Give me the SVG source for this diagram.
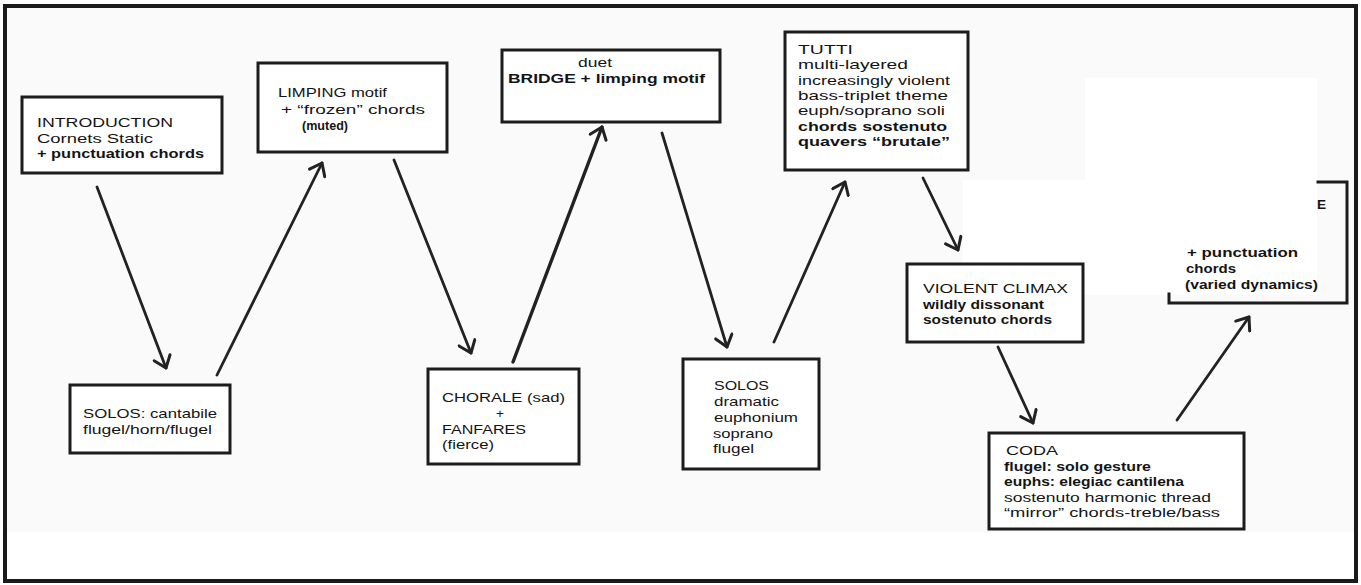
<svg xmlns="http://www.w3.org/2000/svg" width="1361" height="585" viewBox="0 0 1361 585">
  <style>
    .box { fill: #ffffff; stroke: #1c1c1c; stroke-width: 3; }
    .edge { fill: none; stroke: #1c1c1c; stroke-width: 3; stroke-linecap: square; }
    .conn { fill: none; stroke: #222222; stroke-width: 2.8; stroke-linecap: round; }
    text { font-family: "Liberation Sans", Arial, sans-serif; font-size: 13.6px; fill: #141414; }
    .b { font-weight: 700; }
  </style>
  <defs>
    <marker id="ah" viewBox="0 0 20 20" refX="18" refY="10" markerWidth="20" markerHeight="20" markerUnits="userSpaceOnUse" orient="auto">
      <path d="M7,1.5 L18,10 L7,18.5" fill="none" stroke="#222222" stroke-width="3" stroke-linecap="round" stroke-linejoin="round"/>
    </marker>
  </defs>

  <rect x="0" y="0" width="1361" height="585" fill="#ffffff"/>
  <rect x="7" y="8" width="1347" height="524" fill="#fafafa"/>
  <rect x="1085" y="78" width="232" height="102" fill="#ffffff"/>
  <rect x="963" y="180" width="354" height="115" fill="#ffffff"/>
  <rect id="frame" x="5" y="6" width="1351" height="575" fill="none" stroke="#1a1a1a" stroke-width="4"/>

  <g id="connectors">
    <line class="conn" x1="97" y1="187" x2="166" y2="368" marker-end="url(#ah)"/>
    <line class="conn" x1="217" y1="375" x2="322" y2="163" marker-end="url(#ah)"/>
    <line class="conn" x1="394" y1="160" x2="471" y2="353" marker-end="url(#ah)"/>
    <line class="conn" x1="513" y1="362" x2="602" y2="127" marker-end="url(#ah)" style="stroke-width:3.4"/>
    <line class="conn" x1="662" y1="133" x2="727" y2="347" marker-end="url(#ah)"/>
    <line class="conn" x1="774" y1="342" x2="845" y2="182" marker-end="url(#ah)"/>
    <line class="conn" x1="923" y1="178" x2="958" y2="250" marker-end="url(#ah)"/>
    <line class="conn" x1="998" y1="347" x2="1033" y2="423" marker-end="url(#ah)"/>
    <line class="conn" x1="1177" y1="420" x2="1249" y2="317" marker-end="url(#ah)"/>
  </g>

  <g id="introduction">
    <rect class="box" x="22" y="97" width="200" height="76"/>
    <text x="37" y="127" textLength="136" lengthAdjust="spacingAndGlyphs">INTRODUCTION</text>
    <text x="37" y="142.5" textLength="116" lengthAdjust="spacingAndGlyphs">Cornets Static</text>
    <text x="37" y="158" class="b" textLength="167" lengthAdjust="spacingAndGlyphs">+ punctuation chords</text>
  </g>

  <g id="limping">
    <rect class="box" x="258" y="63" width="189" height="89"/>
    <text x="278" y="97" textLength="109" lengthAdjust="spacingAndGlyphs">LIMPING motif</text>
    <text x="281" y="114" textLength="144" lengthAdjust="spacingAndGlyphs">+ “frozen” chords</text>
    <text x="302" y="130" class="b" textLength="46" lengthAdjust="spacingAndGlyphs">(muted)</text>
  </g>

  <g id="bridge">
    <rect class="box" x="502" y="50" width="218" height="72"/>
    <text x="578" y="67" textLength="34" lengthAdjust="spacingAndGlyphs">duet</text>
    <text x="508" y="83" class="b" textLength="197" lengthAdjust="spacingAndGlyphs">BRIDGE + limping motif</text>
  </g>

  <g id="tutti">
    <rect class="box" x="785" y="32" width="183" height="138"/>
    <text x="798" y="54" textLength="55" lengthAdjust="spacingAndGlyphs">TUTTI</text>
    <text x="798" y="69.3" textLength="110" lengthAdjust="spacingAndGlyphs">multi-layered</text>
    <text x="798" y="84.6" textLength="152" lengthAdjust="spacingAndGlyphs">increasingly violent</text>
    <text x="798" y="99.9" textLength="150" lengthAdjust="spacingAndGlyphs">bass-triplet theme</text>
    <text x="798" y="115.2" textLength="147" lengthAdjust="spacingAndGlyphs">euph/soprano soli</text>
    <text x="798" y="130.5" class="b" textLength="149" lengthAdjust="spacingAndGlyphs">chords sostenuto</text>
    <text x="798" y="145.8" class="b" textLength="152" lengthAdjust="spacingAndGlyphs">quavers “brutale”</text>
  </g>

  <g id="solos-cantabile">
    <rect class="box" x="70" y="385" width="160" height="68"/>
    <text x="83" y="418" textLength="134" lengthAdjust="spacingAndGlyphs">SOLOS: cantabile</text>
    <text x="83" y="434" textLength="129" lengthAdjust="spacingAndGlyphs">flugel/horn/flugel</text>
  </g>

  <g id="chorale">
    <rect class="box" x="428" y="369" width="151" height="95"/>
    <text x="442" y="402" textLength="123" lengthAdjust="spacingAndGlyphs">CHORALE (sad)</text>
    <text x="500" y="418" text-anchor="middle">+</text>
    <text x="442" y="433.5" textLength="84" lengthAdjust="spacingAndGlyphs">FANFARES</text>
    <text x="442" y="449.3" textLength="52" lengthAdjust="spacingAndGlyphs">(fierce)</text>
  </g>

  <g id="solos-dramatic">
    <rect class="box" x="683" y="359" width="136" height="110"/>
    <text x="714" y="390" textLength="55" lengthAdjust="spacingAndGlyphs">SOLOS</text>
    <text x="714" y="406" textLength="65" lengthAdjust="spacingAndGlyphs">dramatic</text>
    <text x="714" y="422" textLength="84" lengthAdjust="spacingAndGlyphs">euphonium</text>
    <text x="713" y="437.5" textLength="60" lengthAdjust="spacingAndGlyphs">soprano</text>
    <text x="713" y="453" textLength="41" lengthAdjust="spacingAndGlyphs">flugel</text>
  </g>

  <g id="violent-climax">
    <rect class="box" x="907" y="264" width="176" height="78"/>
    <text x="923" y="293" textLength="145" lengthAdjust="spacingAndGlyphs">VIOLENT CLIMAX</text>
    <text x="923" y="308.5" class="b" textLength="121" lengthAdjust="spacingAndGlyphs">wildly dissonant</text>
    <text x="923" y="324" class="b" textLength="129" lengthAdjust="spacingAndGlyphs">sostenuto chords</text>
  </g>

  <g id="coda">
    <rect class="box" x="989" y="433" width="255" height="96"/>
    <text x="1006" y="455" textLength="52" lengthAdjust="spacingAndGlyphs">CODA</text>
    <text x="1004" y="470.5" class="b" textLength="147" lengthAdjust="spacingAndGlyphs">flugel: solo gesture</text>
    <text x="1004" y="486" class="b" textLength="180" lengthAdjust="spacingAndGlyphs">euphs: elegiac cantilena</text>
    <text x="1004" y="501.5" textLength="207" lengthAdjust="spacingAndGlyphs">sostenuto harmonic thread</text>
    <text x="1004" y="517" textLength="216" lengthAdjust="spacingAndGlyphs">“mirror” chords-treble/bass</text>
  </g>

  <g id="punctuation-box">
    <path class="edge" d="M1318,182 L1347,182 L1347,303 L1169,303 L1169,294"/>
    <text x="1317" y="209" class="b">E</text>
    <text x="1187" y="257" class="b" textLength="111" lengthAdjust="spacingAndGlyphs">+ punctuation</text>
    <text x="1186" y="273" class="b" textLength="50" lengthAdjust="spacingAndGlyphs">chords</text>
    <text x="1185" y="289" class="b" textLength="133" lengthAdjust="spacingAndGlyphs">(varied dynamics)</text>
  </g>
</svg>
